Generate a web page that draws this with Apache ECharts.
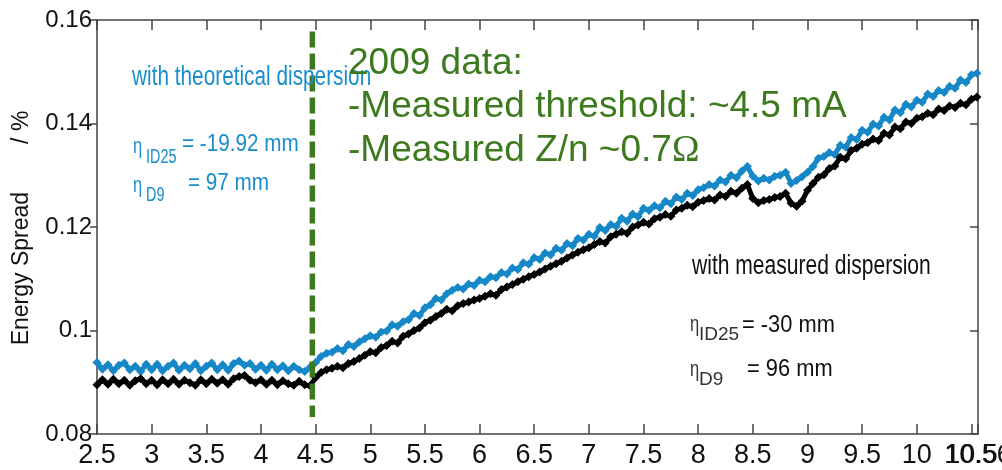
<!DOCTYPE html>
<html>
<head>
<meta charset="utf-8">
<script src="https://cdn.jsdelivr.net/npm/echarts@6/dist/echarts.min.js"></script>
<style>
  html, body { margin: 0; padding: 0; background: #fff; }
  #chart { width: 1002px; height: 470px; }
</style>
</head>
<body>
<div id="chart"></div>
<script>
// Beam current (mA) at which the energy spread was sampled
const currentMA = [
  2.5, 2.55, 2.6, 2.65, 2.7, 2.75, 2.8, 2.85, 2.9, 2.95,
  3, 3.05, 3.1, 3.15, 3.2, 3.25, 3.3, 3.35, 3.4, 3.45,
  3.5, 3.55, 3.6, 3.65, 3.7, 3.75, 3.8, 3.85, 3.9, 3.95,
  4, 4.05, 4.1, 4.15, 4.2, 4.25, 4.3, 4.35, 4.4, 4.45,
  4.5, 4.55, 4.6, 4.65, 4.7, 4.75, 4.8, 4.85, 4.9, 4.95,
  5, 5.05, 5.1, 5.15, 5.2, 5.25, 5.3, 5.35, 5.4, 5.45,
  5.5, 5.55, 5.6, 5.65, 5.7, 5.75, 5.8, 5.85, 5.9, 5.95,
  6, 6.05, 6.1, 6.15, 6.2, 6.25, 6.3, 6.35, 6.4, 6.45,
  6.5, 6.55, 6.6, 6.65, 6.7, 6.75, 6.8, 6.85, 6.9, 6.95,
  7, 7.05, 7.1, 7.15, 7.2, 7.25, 7.3, 7.35, 7.4, 7.45,
  7.5, 7.55, 7.6, 7.65, 7.7, 7.75, 7.8, 7.85, 7.9, 7.95,
  8, 8.05, 8.1, 8.15, 8.2, 8.25, 8.3, 8.35, 8.4, 8.45,
  8.5, 8.55, 8.6, 8.65, 8.7, 8.75, 8.8, 8.85, 8.9, 8.95,
  9, 9.05, 9.1, 9.15, 9.2, 9.25, 9.3, 9.35, 9.4, 9.45,
  9.5, 9.55, 9.6, 9.65, 9.7, 9.75, 9.8, 9.85, 9.9, 9.95,
  10, 10.05, 10.1, 10.15, 10.2, 10.25, 10.3, 10.35, 10.4, 10.45,
  10.5, 10.55
];

// Energy spread (%) computed with the theoretical dispersion
const spreadTheoretical = [
  0.0938, 0.0925, 0.0934, 0.0922, 0.0933, 0.0937, 0.0924, 0.0931, 0.0921, 0.0935,
  0.0924, 0.0935, 0.0922, 0.0931, 0.0937, 0.0923, 0.0933, 0.0926, 0.0936, 0.0922,
  0.0931, 0.0937, 0.0924, 0.0934, 0.0923, 0.0936, 0.0941, 0.0933, 0.0936, 0.0925,
  0.0933, 0.0923, 0.0935, 0.0924, 0.0932, 0.0922, 0.0931, 0.0924, 0.0921, 0.0929,
  0.0938, 0.0950, 0.0956, 0.0958, 0.0965, 0.0961, 0.0973, 0.0969, 0.0978, 0.0984,
  0.0990, 0.0987, 0.0997, 0.0999, 0.1011, 0.1008, 0.1017, 0.1021, 0.1033, 0.1029,
  0.1044, 0.1050, 0.1062, 0.1059, 0.1071, 0.1078, 0.1083, 0.1080, 0.1090, 0.1087,
  0.1097, 0.1094, 0.1104, 0.1102, 0.1112, 0.1109, 0.1121, 0.1118, 0.1131, 0.1128,
  0.1141, 0.1137, 0.1150, 0.1146, 0.1159, 0.1155, 0.1168, 0.1164, 0.1178, 0.1175,
  0.1186, 0.1182, 0.1199, 0.1193, 0.1205, 0.1201, 0.1217, 0.1211, 0.1225, 0.1220,
  0.1236, 0.1232, 0.1241, 0.1237, 0.1250, 0.1245, 0.1258, 0.1253, 0.1265, 0.1261,
  0.1272, 0.1276, 0.1282, 0.1279, 0.1291, 0.1287, 0.1300, 0.1295, 0.1308, 0.1317,
  0.1298, 0.1289, 0.1294, 0.1291, 0.1298, 0.1300, 0.1306, 0.1284, 0.1290, 0.1297,
  0.1306, 0.1317, 0.1333, 0.1336, 0.1344, 0.1340, 0.1358, 0.1354, 0.1373, 0.1369,
  0.1387, 0.1383, 0.1399, 0.1395, 0.1412, 0.1407, 0.1426, 0.1421, 0.1437, 0.1432,
  0.1445, 0.1441, 0.1457, 0.1452, 0.1464, 0.1460, 0.1472, 0.1468, 0.1484, 0.1479,
  0.1494, 0.1497
];

// Energy spread (%) computed with the measured dispersion
const spreadMeasured = [
  0.0895, 0.0905, 0.0896, 0.0906, 0.0897, 0.0904, 0.0894, 0.0903, 0.0907, 0.0897,
  0.0904, 0.0895, 0.0905, 0.0897, 0.0906, 0.0896, 0.0904, 0.0899, 0.0894, 0.0905,
  0.0897, 0.0906, 0.0898, 0.0905, 0.0896, 0.0907, 0.0911, 0.0913, 0.0904, 0.0899,
  0.0905, 0.0896, 0.0904, 0.0895, 0.0903, 0.0897, 0.0894, 0.0902, 0.0895, 0.0893,
  0.0909, 0.0919, 0.0924, 0.0927, 0.0931, 0.0928, 0.0936, 0.0940, 0.0946, 0.0952,
  0.0959, 0.0957, 0.0967, 0.0971, 0.0979, 0.0976, 0.0989, 0.0993, 0.1000, 0.1005,
  0.1015, 0.1020, 0.1027, 0.1033, 0.1041, 0.1038, 0.1048, 0.1052, 0.1055, 0.1059,
  0.1062, 0.1066, 0.1071, 0.1068, 0.1079, 0.1084, 0.1089, 0.1094, 0.1099, 0.1104,
  0.1108, 0.1113, 0.1119, 0.1124, 0.1129, 0.1134, 0.1140, 0.1146, 0.1151, 0.1156,
  0.1160, 0.1166, 0.1172, 0.1169, 0.1181, 0.1186, 0.1191, 0.1188, 0.1200, 0.1204,
  0.1209, 0.1206, 0.1216, 0.1219, 0.1224, 0.1221, 0.1233, 0.1236, 0.1242, 0.1239,
  0.1248, 0.1251, 0.1255, 0.1252, 0.1262, 0.1259, 0.1269, 0.1265, 0.1275, 0.1282,
  0.1255, 0.1247, 0.1251, 0.1253, 0.1257, 0.1259, 0.1265, 0.1246, 0.1240, 0.1250,
  0.1271, 0.1284, 0.1296, 0.1301, 0.1313, 0.1318, 0.1335, 0.1332, 0.1348, 0.1352,
  0.1360, 0.1363, 0.1370, 0.1367, 0.1381, 0.1378, 0.1393, 0.1390, 0.1403, 0.1400,
  0.1410, 0.1413, 0.1420, 0.1417, 0.1428, 0.1425, 0.1434, 0.1431, 0.1439, 0.1436,
  0.1447, 0.1451
];

// Instability threshold marker (vertical dashed line)
const thresholdCurrent = [4.47, 4.47];
const thresholdSpread = [0.1578, 0.0833];

// Axis ranges, tick steps and the labelled current values
const xRange = [2.5, 10.56];
const xStep = 0.5;
const xTickLabels = [2.5, 3, 3.5, 4, 4.5, 5, 5.5, 6, 6.5, 7, 7.5, 8, 8.5, 9, 9.5, 10, 10.5];
const xEndLabel = [10.56];
const yRange = [0.08, 0.16];
const yStep = 0.02;

const BLUE = '#1688c8';
const BLUE_TEXT = '#1a8dcc';
const GREEN = '#3d7a1e';
const AXIS = '#444';
const SANS = "'Liberation Sans', Arial, sans-serif";
const NARROW = "'Liberation Sans Narrow', 'Arial Narrow', 'Liberation Sans', sans-serif";

const pairs = (xs, ys) => xs.map((x, i) => [x, ys[i]]);

function note(x, y, text, size, fill, scaleX) {
  return {
    type: 'text', x: x, y: y, scaleX: scaleX || 1, z: 100,
    style: {
      text: text, fill: fill, verticalAlign: 'middle', align: 'left',
      font: size + 'px ' + SANS
    }
  };
}

const axisLineStyle = { color: AXIS, width: 1.5 };
const xLabelStyle = { color: '#111', fontFamily: NARROW, fontSize: 27, margin: 8 };

const chart = echarts.init(document.getElementById('chart'), null, { renderer: 'canvas' });

chart.setOption({
  animation: false,
  backgroundColor: '#fff',
  grid: {
    left: 97, right: 24, top: 20, bottom: 36,
    containLabel: false, outerBoundsMode: 'none'
  },
  xAxis: [
    {
      type: 'value', position: 'bottom', min: xRange[0], max: xRange[1], interval: xStep,
      axisLine: { show: true, onZero: false, lineStyle: axisLineStyle },
      axisTick: { show: true, inside: true, length: 10, lineStyle: axisLineStyle },
      axisLabel: Object.assign({ show: true, customValues: xTickLabels, showMaxLabel: true }, xLabelStyle),
      splitLine: { show: false }
    },
    {
      type: 'value', position: 'top', min: xRange[0], max: xRange[1], interval: xStep,
      axisLine: { show: true, onZero: false, lineStyle: axisLineStyle },
      axisTick: { show: true, inside: true, length: 10, lineStyle: axisLineStyle },
      axisLabel: { show: false },
      splitLine: { show: false }
    },
    {
      // end-of-range label, drawn on its own so it may overlap the 10.5 label
      type: 'value', position: 'bottom', min: xRange[0], max: xRange[1], interval: xStep,
      axisLine: { show: false, onZero: false },
      axisTick: { show: false },
      axisLabel: Object.assign({ show: true, customValues: xEndLabel, showMaxLabel: true, showMinLabel: true }, xLabelStyle),
      splitLine: { show: false }
    }
  ],
  yAxis: [
    {
      type: 'value', position: 'left', min: yRange[0], max: yRange[1], interval: yStep,
      axisLine: { show: true, onZero: false, lineStyle: axisLineStyle },
      axisTick: { show: true, inside: false, length: 7, lineStyle: axisLineStyle },
      axisLabel: { show: true, color: '#111', fontFamily: NARROW, fontSize: 24, margin: 5 },
      splitLine: { show: false }
    },
    {
      type: 'value', position: 'right', min: yRange[0], max: yRange[1], interval: yStep,
      axisLine: { show: true, onZero: false, lineStyle: axisLineStyle },
      axisTick: { show: true, inside: true, length: 8, lineStyle: axisLineStyle },
      axisLabel: { show: false },
      splitLine: { show: false }
    }
  ],
  series: [
    {
      name: 'with theoretical dispersion',
      type: 'line', xAxisIndex: 0, yAxisIndex: 0,
      data: pairs(currentMA, spreadTheoretical),
      symbol: 'diamond', symbolSize: 9, showSymbol: true,
      itemStyle: { color: BLUE },
      lineStyle: { color: BLUE, width: 5 },
      z: 2
    },
    {
      name: 'with measured dispersion',
      type: 'line', xAxisIndex: 0, yAxisIndex: 0,
      data: pairs(currentMA, spreadMeasured),
      symbol: 'diamond', symbolSize: 9, showSymbol: true,
      itemStyle: { color: '#000' },
      lineStyle: { color: '#000', width: 5 },
      z: 3
    },
    {
      name: 'threshold',
      type: 'line', xAxisIndex: 0, yAxisIndex: 0,
      data: pairs(thresholdCurrent, thresholdSpread),
      symbol: 'none',
      lineStyle: { color: GREEN, width: 5.5, type: [16, 6] },
      z: 5
    }
  ],
  graphic: [
    // vertical axis title
    {
      type: 'text', x: 22, y: 228, rotation: Math.PI / 2, z: 100,
      style: {
        text: '{a|Energy Spread}{b|/ %}',
        align: 'center', verticalAlign: 'middle', fill: '#111',
        font: '23px ' + SANS,
        rich: {
          a: { fontSize: 23, fontFamily: SANS, fill: '#111' },
          b: { fontSize: 23, fontFamily: SANS, fill: '#111', padding: [0, 0, 0, 48] }
        }
      }
    },
    // theoretical dispersion note (blue)
    note(132, 78, 'with theoretical dispersion', 27, BLUE_TEXT, 0.77),
    note(133, 147, 'η', 22, BLUE_TEXT, 0.75),
    note(146, 157, 'ID25', 20, BLUE_TEXT, 0.72),
    note(182, 145, '= -19.92 mm', 23, BLUE_TEXT, 0.9),
    note(133, 186, 'η', 22, BLUE_TEXT, 0.75),
    note(146, 195, 'D9', 20, BLUE_TEXT, 0.72),
    note(188, 184, '= 97 mm', 23, BLUE_TEXT, 0.9),
    // measured dispersion note (black)
    note(692, 267, 'with measured dispersion', 27, '#111', 0.78),
    note(690, 325, 'η', 22, '#333', 0.75),
    note(699, 335, 'ID25', 19, '#333', 1),
    note(742, 326, '= -30 mm', 23, '#111', 0.95),
    note(690, 370, 'η', 22, '#333', 0.75),
    note(699, 380, 'D9', 19, '#333', 1),
    note(747, 370, '= 96 mm', 23, '#111', 0.95),
    // 2009 summary (green)
    note(348, 64, '2009 data:', 37, GREEN, 1),
    note(348, 107, '-Measured threshold: ~4.5 mA', 37, GREEN, 1),
    {
      type: 'text', x: 348, y: 151, z: 100,
      style: {
        text: '-Measured Z/n ~0.7{o|Ω}',
        fill: GREEN, verticalAlign: 'middle', align: 'left',
        font: '37px ' + SANS,
        rich: {
          o: { fontSize: 37, fontFamily: "'Liberation Serif', 'Times New Roman', serif", fill: GREEN }
        }
      }
    }
  ]
});
</script>
</body>
</html>
